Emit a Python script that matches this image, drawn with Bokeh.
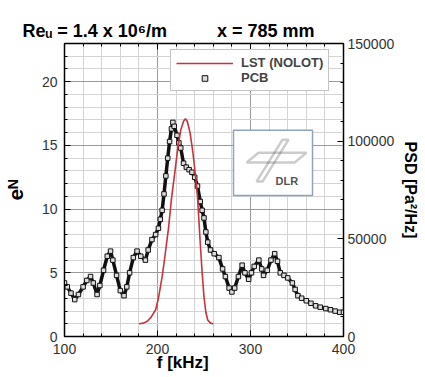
from bokeh.plotting import figure
from bokeh.models import (Range1d, LinearAxis, SingleIntervalTicker, Legend, LegendItem,
                          Label, BoxAnnotation, PolyAnnotation, BasicTickFormatter,
                          CustomJSTickFormatter, Title)
from bokeh.embed import file_html
from bokeh.resources import INLINE

# ---- data ----
f_pcb = [100, 103, 107, 111, 115, 120, 124, 128, 131, 135, 138, 142, 146, 149.5, 152, 156, 160, 164,
         167, 170, 174, 178, 182, 187, 190, 194, 198, 201, 203, 205, 207, 209, 211, 213, 215, 216.5,
         218, 221, 223, 225, 228, 231, 234, 237, 240, 243, 246, 248, 250, 252, 254, 257, 261, 266,
         270, 273, 277, 280, 283, 287, 291, 294, 298, 301, 304, 309, 312, 314, 318, 322, 326, 329,
         332, 336, 340, 345, 348, 351, 355, 360, 365, 370, 375, 381, 386, 391, 396, 400]
psd_pcb = [27400, 25400, 22200, 18900, 21500, 25400, 28700, 30700, 27400, 21500, 26100, 33900,
           41100, 43700, 39100, 31300, 23500, 20900, 25400, 32600, 40400, 43700, 41100, 39100,
           44300, 49600, 52200, 55400, 60000, 64600, 73000, 82200, 91300, 99800, 106300, 109600,
           107600, 103000, 99100, 96500, 88700, 86700, 85400, 84100, 81500, 77000, 69100, 64600,
           60700, 53500, 48300, 44300, 42400, 40400, 34600, 30700, 24800, 22800, 24800, 30700,
           36500, 32600, 29300, 32600, 35900, 39100, 34600, 31300, 33900, 39100, 42400, 38500,
           32600, 31300, 30000, 27400, 24100, 20900, 19600, 18300, 17000, 15700, 15000, 14300,
           13700, 13000, 12400, 12400]

f_lst = [180, 185, 189, 193, 198, 201, 205, 208, 212, 215, 219, 222, 225, 228, 230, 232, 235,
         238, 241, 243, 246, 248, 250, 252, 254, 257, 260]
n_lst = [1.0, 1.05, 1.2, 1.5, 2.1, 3.0, 4.7, 6.3, 8.6, 10.8, 13.1, 14.9, 16.2, 16.9, 17.1, 16.9,
         16.0, 14.5, 12.5, 11.0, 7.3, 5.0, 3.1, 1.9, 1.3, 1.05, 1.0]

x_ticks_interval = 100
left_ticks_interval = 5
right_ticks_interval = 50000

FONT = "Arial"
NB = "\u00a0"

p = figure(frame_width=279, frame_height=293, output_backend="svg", toolbar_location=None,
           x_range=Range1d(100, 400), y_range=Range1d(0, 23),
           min_border_left=56, min_border_right=74, min_border_top=43, min_border_bottom=32,
           background_fill_color="white", border_fill_color="white")
p.extra_y_ranges = {"psd": Range1d(0, 150000)}

xt = SingleIntervalTicker(interval=x_ticks_interval, num_minor_ticks=5)
yt = SingleIntervalTicker(interval=left_ticks_interval, num_minor_ticks=5)
rt = SingleIntervalTicker(interval=right_ticks_interval, num_minor_ticks=5)

p.xaxis.ticker = xt
p.yaxis.ticker = yt
p.xgrid.ticker = xt
p.ygrid.ticker = yt

for g in (p.xgrid, p.ygrid):
    g.grid_line_color = "#9a9a9a"
    g.grid_line_width = 1
    g.minor_grid_line_color = "#d4d4d4"
    g.minor_grid_line_width = 1

p.outline_line_color = "black"
p.outline_line_width = 1.5


def style_axis(ax, label_size="14px"):
    ax.major_tick_in = 6
    ax.major_tick_out = 0
    ax.minor_tick_in = 3
    ax.minor_tick_out = 0
    ax.axis_line_color = "black"
    ax.major_tick_line_color = "black"
    ax.minor_tick_line_color = "black"
    ax.major_label_text_font = FONT
    ax.major_label_text_font_size = label_size
    ax.major_label_text_color = "#333333"
    ax.axis_label_text_font = FONT
    ax.axis_label_text_font_style = "bold"
    ax.axis_label_text_color = "black"


style_axis(p.xaxis[0])
p.xaxis.major_label_standoff = 7
p.xaxis.axis_label = "f [kHz]" + NB * 9
p.xaxis.axis_label_text_font_size = "17px"
p.xaxis.axis_label_standoff = -4

style_axis(p.yaxis[0])
p.yaxis.axis_label = "eᴺ"
p.yaxis.axis_label_text_font_size = "21px"
p.yaxis.major_label_standoff = 7
p.yaxis.axis_label_standoff = 12

right = LinearAxis(y_range_name="psd", ticker=rt,
                   formatter=BasicTickFormatter(use_scientific=False),
                   axis_label="PSD [Pa²/Hz]")
style_axis(right)
right.major_label_standoff = 4
right.axis_label_standoff = 5
right.axis_label_text_font_size = "16px"
p.add_layout(right, "right")

top = LinearAxis(ticker=SingleIntervalTicker(interval=x_ticks_interval, num_minor_ticks=5),
                 formatter=CustomJSTickFormatter(code="return ''"))
style_axis(top)
top.axis_line_color = None
p.add_layout(top, "above")

p.title = Title(text="Reᵤ = 1.4 x 10⁶/m" + NB * 10 + "x = 785 mm",
                align="left", offset=-42, standoff=2, vertical_align="top",
                text_font=FONT, text_font_style="bold", text_font_size="18px",
                text_color="black")

# ---- data renderers ----
p.line(f_pcb, psd_pcb, y_range_name="psd", line_color="#111111", line_width=3.5)
sq = p.scatter(f_pcb, psd_pcb, y_range_name="psd", marker="square", size=4.5,
               line_color="#111111", fill_color="#dddddd", line_width=1)
red = p.line(f_lst, n_lst, line_color="#c8323a", line_width=1.6)

legend = Legend(items=[LegendItem(label="LST (NOLOT)", renderers=[red]),
                       LegendItem(label="PCB", renderers=[sq])],
                location=(106, 245), orientation="vertical")
legend.label_text_font = FONT
legend.label_text_font_style = "bold"
legend.label_text_font_size = "13px"
legend.glyph_width = 57
legend.glyph_height = 14
legend.label_height = 14
legend.label_standoff = 8
legend.spacing = 0
legend.padding = 5
legend.margin = 0
legend.border_line_color = "#8a8a8a"
legend.border_line_width = 1
legend.background_fill_alpha = 1
p.add_layout(legend)

# ---- DLR logo box (decoration) ----
p.add_layout(BoxAnnotation(left=281.7, right=366.7, bottom=11.06, top=16.2,
                           fill_color="white", fill_alpha=1,
                           line_color="#8fa3bf", line_width=1.5, line_alpha=1))
p.add_layout(PolyAnnotation(xs=[295.7, 308.6, 360.2, 347.3], ys=[13.65, 14.43, 14.43, 13.65],
                            fill_alpha=0, line_color="#555555", line_width=2.5))
p.add_layout(PolyAnnotation(xs=[334.4, 340.9, 312.9, 306.5], ys=[15.45, 15.45, 12.16, 12.16],
                            fill_alpha=0, line_color="#555555", line_width=2.5))
p.add_layout(Label(x=339.0, y=12.2, text="DLR", text_font=FONT, text_font_style="bold",
                   text_font_size="11px", text_color="#555555",
                   text_align="center", text_baseline="middle"))

open("out.html", "w").write(file_html(p, INLINE))
